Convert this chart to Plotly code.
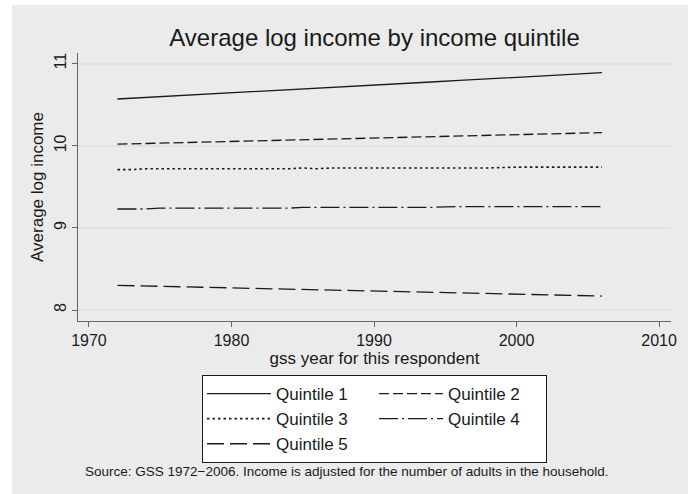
import plotly.graph_objects as go

# GSS survey years
years = [1972, 1973, 1974, 1975, 1976, 1977, 1978, 1980, 1982, 1983, 1984, 1985, 1986,
         1987, 1988, 1989, 1990, 1991, 1993, 1994, 1996, 1998, 2000, 2002, 2004, 2006]

# average log income per quintile
q1 = [10.570, 10.579, 10.589, 10.598, 10.608, 10.617, 10.626, 10.645, 10.664, 10.673, 10.683, 10.692, 10.702,
      10.711, 10.720, 10.730, 10.739, 10.749, 10.767, 10.777, 10.796, 10.814, 10.833, 10.852, 10.871, 10.890]
q2 = [10.020, 10.024, 10.028, 10.032, 10.037, 10.041, 10.045, 10.053, 10.061, 10.065, 10.069, 10.074, 10.078,
      10.082, 10.086, 10.090, 10.094, 10.098, 10.107, 10.111, 10.119, 10.127, 10.135, 10.144, 10.152, 10.160]
q3 = [9.71, 9.71, 9.72, 9.72, 9.72, 9.72, 9.72, 9.72, 9.72, 9.72, 9.72, 9.73, 9.72,
      9.73, 9.73, 9.73, 9.73, 9.73, 9.73, 9.73, 9.73, 9.73, 9.74, 9.74, 9.74, 9.74]
q4 = [9.23, 9.23, 9.23, 9.24, 9.24, 9.24, 9.24, 9.24, 9.24, 9.24, 9.24, 9.25, 9.25,
      9.25, 9.25, 9.25, 9.25, 9.25, 9.25, 9.25, 9.26, 9.26, 9.26, 9.26, 9.26, 9.26]
q5 = [8.300, 8.296, 8.292, 8.289, 8.285, 8.281, 8.277, 8.269, 8.262, 8.258, 8.254, 8.250, 8.246,
      8.243, 8.239, 8.235, 8.231, 8.227, 8.220, 8.216, 8.208, 8.201, 8.193, 8.185, 8.178, 8.170]

names = ["Quintile 1", "Quintile 2", "Quintile 3", "Quintile 4", "Quintile 5"]
x_ticks = [1970, 1980, 1990, 2000, 2010]
y_ticks = [8, 9, 10, 11]

dashes = ["solid", "10px,4px", "2.5px,3px", "19px,4px,2px,4px", "17px,6px"]
widths = [1.3, 1.3, 1.6, 1.3, 1.3]
# legend columns like Stata: Q1/Q3/Q5 on the left, Q2/Q4 on the right
groups = ["a", "b", "a", "b", "a"]

FONT = "Liberation Sans, Arial, sans-serif"
INK = "#1a1a1a"
BG = "#ebebeb"
AXIS = "#666666"

fig = go.Figure()
for name, vals, dash, w, grp in zip(names, [q1, q2, q3, q4, q5], dashes, widths, groups):
    fig.add_trace(go.Scatter(
        x=years, y=vals, mode="lines", name=name, legendgroup=grp,
        line=dict(color=INK, width=w, dash=dash),
    ))

fig.update_layout(
    width=692, height=494,
    margin=dict(l=78, r=21, t=53, b=173),
    paper_bgcolor="white",
    plot_bgcolor="white",
    font=dict(family=FONT, color=INK, size=16),
    title=dict(text="Average log income by income quintile", x=0.5, xref="paper",
               xanchor="center", y=0.924, yanchor="middle",
               font=dict(size=24, color=INK)),
    legend=dict(orientation="h", traceorder="grouped", x=0.5, xanchor="center",
                y=-0.2015, yanchor="top",
                bordercolor=INK, borderwidth=1, bgcolor="white",
                itemwidth=64, entrywidth=93, entrywidthmode="pixels",
                font=dict(size=17), tracegroupgap=0),
    shapes=[dict(type="rect", xref="paper", yref="paper",
                 x0=-0.1113, x1=1.0287, y0=-0.66, y1=1.179,
                 fillcolor=BG, line=dict(width=0), layer="below")],
    annotations=[dict(text="Source: GSS 1972\u22122006. Income is adjusted for the number of adults in the household.",
                      xref="paper", yref="paper", x=0.452, y=-0.56, xanchor="center", yanchor="middle",
                      showarrow=False, font=dict(size=13.5, color=INK))],
)

fig.update_xaxes(
    range=[1969.23, 2010.84], tickvals=x_ticks, ticks="outside", ticklen=5,
    tickcolor=AXIS, showline=True, linecolor=AXIS, linewidth=1.2,
    showgrid=False, zeroline=False, tickfont=dict(size=16),
    title=dict(text="gss year for this respondent", standoff=2, font=dict(size=17)),
)
fig.update_yaxes(
    range=[7.866, 11.13], tickvals=y_ticks, ticks="outside", ticklen=5, tickangle=-90,
    tickcolor=AXIS, showline=True, linecolor=AXIS, linewidth=1.2,
    showgrid=True, gridcolor="#e2e2e2", gridwidth=1.5, zeroline=False,
    tickfont=dict(size=16),
    title=dict(text="Average log income", standoff=3, font=dict(size=17)),
)

# the page body has an 8px default margin; drop it so the figure sits at the window corner
fig.write_html("out.html", config={"displayModeBar": False},
               post_script="document.body.style.margin='0';")
